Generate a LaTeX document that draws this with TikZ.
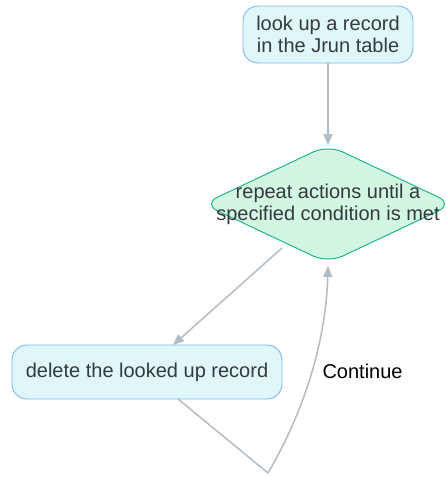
\documentclass[tikz,border=0pt]{standalone}
\usepackage{fontspec}
\setmainfont{Liberation Sans}
\usetikzlibrary{shapes.geometric,arrows.meta}
\definecolor{boxfill}{HTML}{E0F7FA}
\definecolor{boxline}{HTML}{7BB6F2}
\definecolor{decfill}{HTML}{D3F6E1}
\definecolor{decline}{HTML}{1DB98A}
\definecolor{edge}{HTML}{B3BCC3}
\definecolor{ink}{HTML}{333A40}
\tikzset{
  stepbox/.style={draw=boxline, fill=boxfill, line width=0.9pt, rounded corners=15pt,
    text=ink, font=\fontsize{20}{22}\selectfont, align=center, inner sep=0pt},
  choice/.style={draw=decline, fill=decfill, line width=1pt, rounded corners=16pt},
  flow/.style={draw=edge, line width=1.5pt, -{Triangle[length=11pt,width=9pt]}},
  plain/.style={draw=edge, line width=1.5pt}
}
\begin{document}
\begin{tikzpicture}[x=1pt,y=-1pt]
\useasboundingbox (0,0) rectangle (446,477);
\clip (0,0) rectangle (446,477);
% process steps
\node[stepbox, minimum width=170pt, minimum height=57pt] (lookup) at (328,34.5) {look up a record\\in the Jrun table};
\node[stepbox, minimum width=270pt, minimum height=54pt] (delete) at (147,372) {delete the looked up record};
% loop condition
\coordinate (dtop) at (328,145);
\coordinate (dbot) at (328,263);
\coordinate (dleft) at (203,204);
\coordinate (dright) at (453,204);
\path[choice] (dtop) -- (dright) -- (dbot) -- (dleft) -- cycle;
\node[text=ink, font=\fontsize{20}{22}\selectfont, align=center] (loop) at (328,204) {repeat actions until a\\specified condition is met};
% connectors
\coordinate (dsw) at (282,248);
\coordinate (bend) at (268,473);
\draw[flow] (lookup.south) -- (dtop);
\draw[flow] (dsw) -- (173,345);
\draw[plain] (178,399) -- (bend);
\draw[flow] (bend) .. controls (305,410) and (326,340) .. (328,266);
\node[anchor=west, font=\fontsize{20}{22}\selectfont] (cont) at (319,371) {Continue};
\end{tikzpicture}
\end{document}
